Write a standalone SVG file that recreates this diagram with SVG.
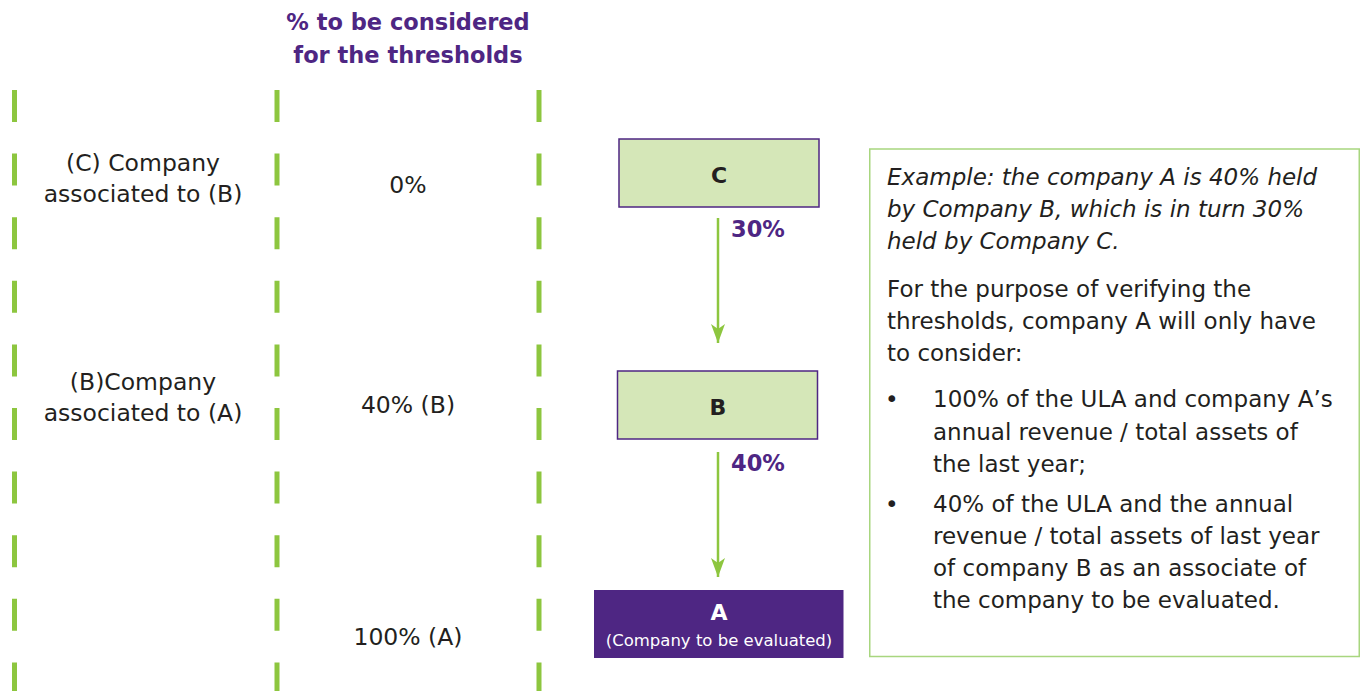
<svg xmlns="http://www.w3.org/2000/svg" width="1360" height="691" viewBox="0 0 1360 691">
  <defs>
    <style>
      .txt { font-family: "DejaVu Sans", "Liberation Sans", sans-serif; fill: #231f20; }
      .lbl { font-size: 23.5px; text-anchor: middle; }
      .head { font-family: "DejaVu Sans", "Liberation Sans", sans-serif; font-weight: bold; font-size: 22.5px; fill: #4e2683; text-anchor: middle; }
      .pct { font-family: "DejaVu Sans", "Liberation Sans", sans-serif; font-weight: bold; font-size: 22.5px; fill: #4e2683; }
      .box { fill: #d5e7b8; stroke: #4e2683; stroke-width: 1.5; }
      .boxA { fill: #4e2683; }
      .key { font-family: "DejaVu Sans", "Liberation Sans", sans-serif; font-weight: bold; font-size: 22px; text-anchor: middle; }
      .guide { stroke: #8dc63f; stroke-width: 5; stroke-dasharray: 32 31.6; fill: none; }
      .edge { stroke: #8dc63f; stroke-width: 2.5; fill: none; }
      .note { font-family: "DejaVu Sans", "Liberation Sans", sans-serif; font-size: 23px; fill: #231f20; }
    </style>
    <!-- arrowhead drawn along +x so orient="auto" follows the line -->
    <marker id="arrow" markerUnits="userSpaceOnUse" markerWidth="20" markerHeight="14" refX="19" refY="7" orient="auto" viewBox="0 0 20 14">
      <path d="M0,0 L5,7 L0,14 L19,7 Z" fill="#8dc63f"/>
    </marker>
  </defs>

  <rect width="1360" height="691" fill="#ffffff"/>

  <!-- column guides -->
  <g id="guides">
    <line class="guide" x1="14.5" y1="90" x2="14.5" y2="691"/>
    <line class="guide" x1="277" y1="90" x2="277" y2="691"/>
    <line class="guide" x1="539" y1="90" x2="539" y2="691"/>
  </g>

  <!-- column header -->
  <g id="header">
    <text class="head" x="408" y="30">% to be considered</text>
    <text class="head" x="408" y="63">for the thresholds</text>
  </g>

  <!-- row labels -->
  <g id="row-c">
    <text class="txt lbl" x="143" y="171">(C) Company</text>
    <text class="txt lbl" x="143" y="202">associated to (B)</text>
    <text class="txt lbl" x="408" y="193">0%</text>
  </g>
  <g id="row-b">
    <text class="txt lbl" x="143" y="390">(B)Company</text>
    <text class="txt lbl" x="143" y="421">associated to (A)</text>
    <text class="txt lbl" x="408" y="413">40% (B)</text>
  </g>
  <g id="row-a">
    <text class="txt lbl" x="408" y="645">100% (A)</text>
  </g>

  <!-- ownership chain -->
  <g id="node-c">
    <rect class="box" x="619" y="139" width="200" height="68"/>
    <text class="key" x="719" y="183" fill="#231f20">C</text>
  </g>
  <g id="node-b">
    <rect class="box" x="617.5" y="371" width="200" height="68"/>
    <text class="key" x="718" y="415" fill="#231f20">B</text>
  </g>
  <g id="node-a">
    <rect class="boxA" x="594" y="590" width="249.5" height="68"/>
    <text class="key" x="719" y="620" fill="#ffffff">A</text>
    <text x="719" y="646" font-family="DejaVu Sans, Liberation Sans, sans-serif" font-size="16.5" fill="#ffffff" text-anchor="middle">(Company to be evaluated)</text>
  </g>

  <g id="connectors">
    <line class="edge" x1="718" y1="218" x2="718" y2="343" marker-end="url(#arrow)"/>
    <text class="pct" x="731" y="237">30%</text>
    <line class="edge" x1="718" y1="452" x2="718" y2="577" marker-end="url(#arrow)"/>
    <text class="pct" x="731" y="471">40%</text>
  </g>

  <!-- explanatory note -->
  <g id="note">
    <rect x="869.75" y="149" width="489.5" height="507.5" fill="#ffffff" stroke="#a8d67f" stroke-width="1.5"/>
    <text class="note" font-style="italic" x="887" y="185">Example: the company A is 40% held</text>
    <text class="note" font-style="italic" x="887" y="217">by Company B, which is in turn 30%</text>
    <text class="note" font-style="italic" x="887" y="249">held by Company C.</text>
    <text class="note" x="887" y="297">For the purpose of verifying the</text>
    <text class="note" x="887" y="329">thresholds, company A will only have</text>
    <text class="note" x="887" y="361">to consider:</text>
    <text class="note" x="885" y="407">•</text>
    <text class="note" x="933" y="407">100% of the ULA and company A’s</text>
    <text class="note" x="933" y="439.5">annual revenue / total assets of</text>
    <text class="note" x="933" y="471.5">the last year;</text>
    <text class="note" x="885" y="511.5">•</text>
    <text class="note" x="933" y="511.5">40% of the ULA and the annual</text>
    <text class="note" x="933" y="543.5">revenue / total assets of last year</text>
    <text class="note" x="933" y="575.5">of company B as an associate of</text>
    <text class="note" x="933" y="607.5">the company to be evaluated.</text>
  </g>
</svg>
